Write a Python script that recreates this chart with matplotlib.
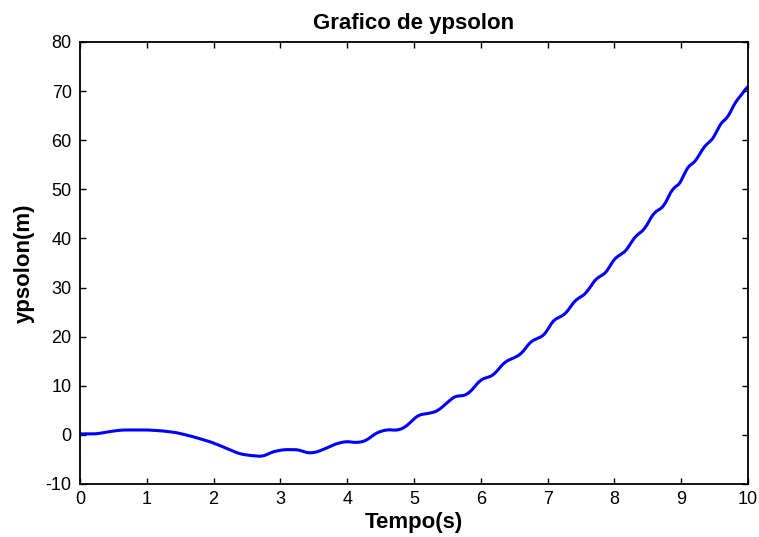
import numpy as np
import matplotlib.pyplot as plt

# 數據：從圖上讀取的 (時間, ypsolon) 點
tempo = [0.0, 0.25, 0.45, 0.63, 0.85, 1.02, 1.25, 1.45, 1.7, 1.95, 2.1, 2.25, 2.4,
         2.55, 2.74, 2.87, 3.04, 3.27, 3.4, 3.52, 3.64, 3.82, 3.99, 4.12, 4.27,
         4.44, 4.6, 4.75, 4.87, 5.06, 5.27, 5.36, 5.54, 5.64, 5.72, 5.84, 5.99,
         6.09, 6.18, 6.36, 6.51, 6.61, 6.74, 6.86, 6.96, 7.08, 7.21, 7.3, 7.41,
         7.51, 7.6, 7.71, 7.83, 7.9, 7.98, 8.11, 8.2, 8.28, 8.39, 8.46, 8.58,
         8.68, 8.76, 8.86, 8.95, 9.01, 9.08, 9.18, 9.25, 9.33, 9.43, 9.51, 9.58,
         9.69, 9.73, 9.81, 9.88, 9.96, 10.0]
ypsolon = [0.2, 0.2, 0.7, 1.0, 1.0, 1.0, 0.8, 0.45, -0.4, -1.4, -2.2, -3.1, -3.9,
           -4.2, -4.4, -3.5, -3.0, -3.0, -3.7, -3.6, -3.0, -1.85, -1.3, -1.6, -1.3,
           0.45, 1.1, 0.9, 1.55, 4.05, 4.5, 4.9, 7.1, 8.1, 7.8, 8.65, 11.2,
           11.7, 12.0, 14.9, 15.75, 16.5, 19.0, 19.7, 20.35, 23.4, 24.1, 25.1, 27.5,
           28.1, 29.2, 31.7, 32.6, 33.3, 35.75, 36.8, 37.8, 40.0, 41.25, 41.9, 45.2,
           45.9, 46.8, 50.2, 50.7, 51.6, 54.6, 55.2, 56.4, 58.6, 59.7, 60.8, 63.6,
           64.3, 65.5, 67.9, 68.8, 70.3, 71.3]

plt.rcParams['font.family'] = ['Liberation Sans', 'DejaVu Sans']
plt.rcParams['axes.unicode_minus'] = False

fig = plt.figure(figsize=(7.59, 5.37), dpi=100)
ax = fig.add_axes([0.1054, 0.0987, 0.8801, 0.8231])

# 平滑曲線
tt = np.linspace(0, 10, 800)
yy = np.interp(tt, tempo, ypsolon)
k = 5
yy_s = np.convolve(np.pad(yy, k, mode='edge'), np.ones(2 * k + 1) / (2 * k + 1), mode='valid')
ax.plot(tt, yy_s, color='#0000ff', linewidth=2.2)

ax.set_xlim(0, 10)
ax.set_ylim(-10, 80)
ax.set_xticks(range(0, 11))
ax.set_yticks(range(-10, 81, 10))
ax.tick_params(direction='in', top=True, right=True, length=4, width=1.0,
               labelsize=13)
ax.tick_params(axis='x', pad=5)
ax.tick_params(axis='y', pad=6)
for s in ax.spines.values():
    s.set_linewidth(1.3)

ax.set_title('Grafico de ypsolon', fontsize=16, fontweight='bold', pad=9)
ax.set_xlabel('Tempo(s)', fontsize=16, fontweight='bold', labelpad=3)
ax.set_ylabel('ypsolon(m)', fontsize=16, fontweight='bold', labelpad=8)

fig.savefig('out.png', dpi=100)
